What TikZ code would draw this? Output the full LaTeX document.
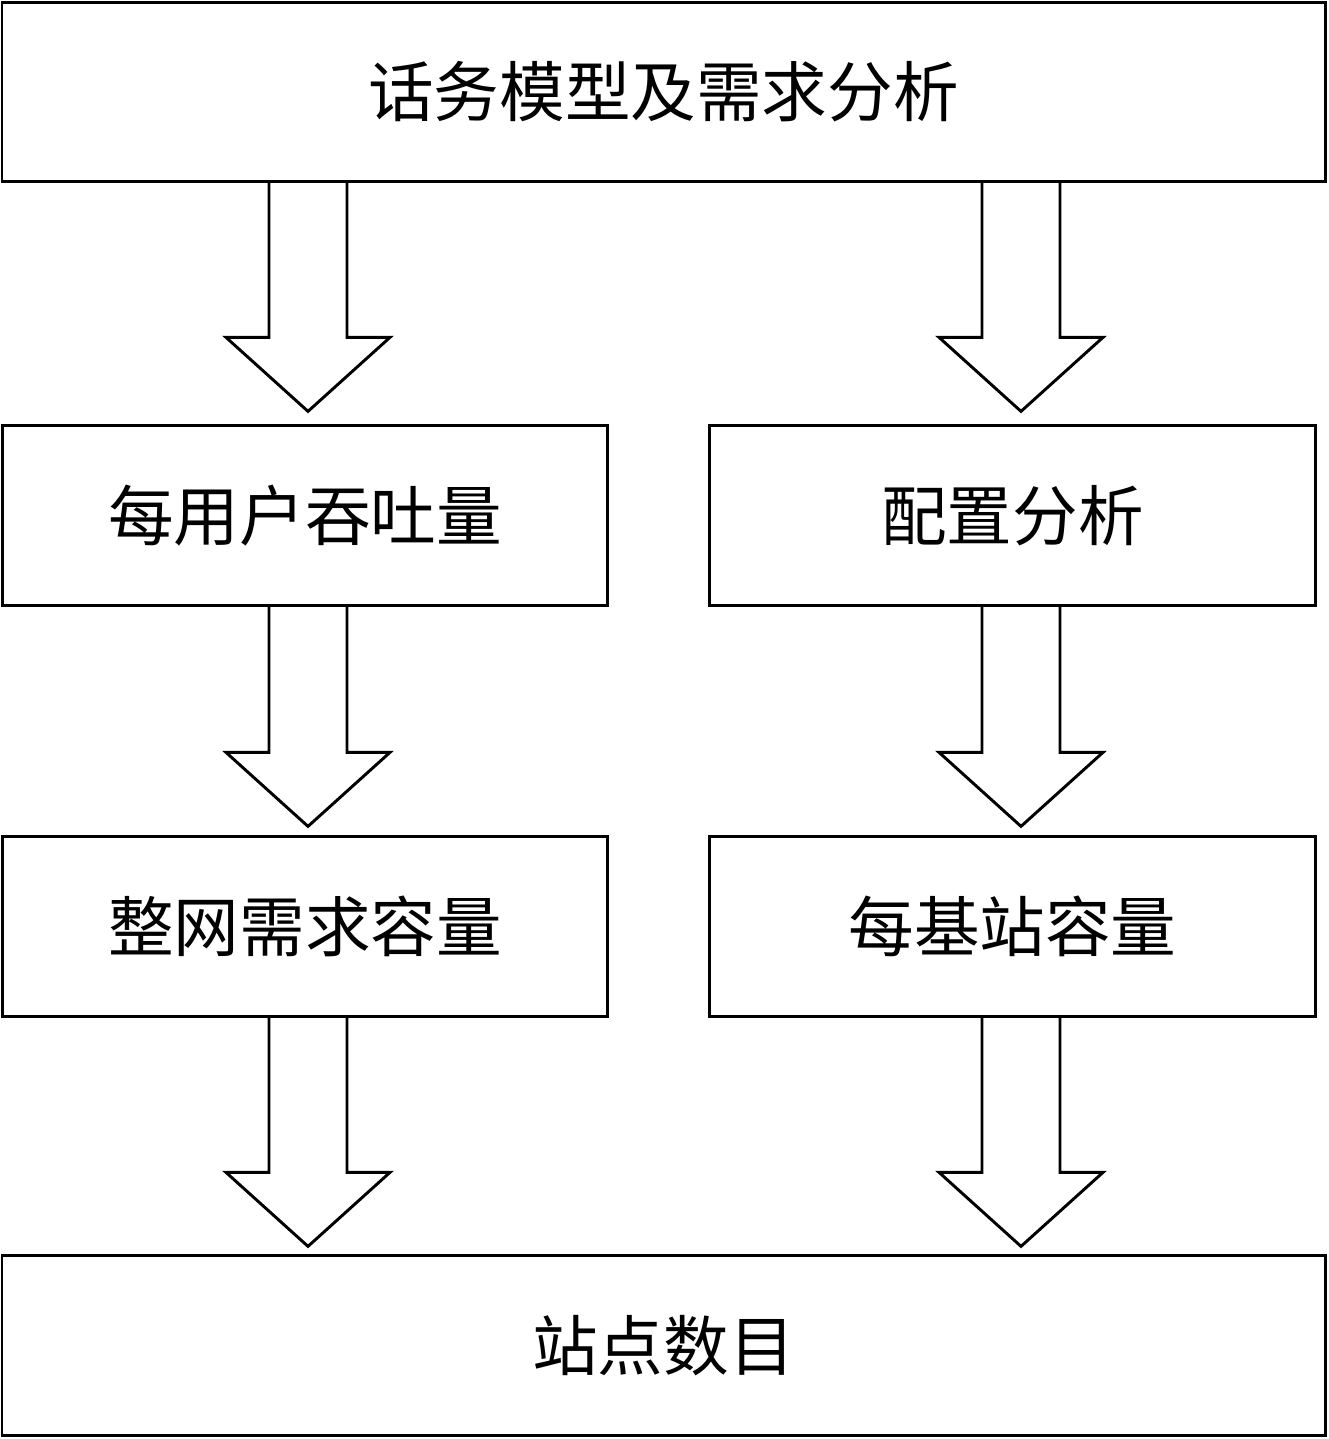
\documentclass[tikz,border=0pt]{standalone}
\usepackage{fontspec}
\setmainfont{Noto Sans CJK SC}
\usetikzlibrary{calc}
\tikzset{
  box/.style     ={draw,line width=2.5pt,minimum height=5.38cm,inner sep=0pt,align=center,
                   font=\fontsize{56}{60}\selectfont},
  widebox/.style ={box,minimum width=39.69cm},
  halfbox/.style ={box,minimum width=18.17cm},
  flow/.style    ={draw,line width=2.5pt,line join=miter}
}
\newcommand{\flowarrow}[2]{%
  \draw[flow] ($(#1)+(-39,0)$) -- ($(#2)+(-39,-74)$) -- ($(#2)+(-82,-74)$) -- (#2)
    -- ($(#2)+(82,-74)$) -- ($(#2)+(39,-74)$) -- ($(#1)+(39,0)$);}

\begin{document}
\begin{tikzpicture}[x=0.03cm,y=-0.03cm]
    \useasboundingbox (0,0) rectangle (1329,1439);
    \node[widebox] (demand) at (663.5,92)    {话务模型及需求分析};
    \node[halfbox] (thr)    at (305,515.5)   {每用户吞吐量};
    \node[halfbox] (cfg)    at (1012.5,515.5){配置分析};
    \node[halfbox] (net)    at (305,926.5)   {整网需求容量};
    \node[halfbox] (bs)     at (1012.5,926.5){每基站容量};
    \node[widebox] (sites)  at (663.5,1345.5){站点数目};
    \coordinate (lc) at (308,0);
    \coordinate (rc) at (1021,0);
    \coordinate (a1) at (demand.south -| lc);
    \coordinate (b1) at ($(thr.north -| lc)+(0,-13)$);
    \coordinate (a2) at (demand.south -| rc);
    \coordinate (b2) at ($(cfg.north -| rc)+(0,-13)$);
    \coordinate (a3) at (thr.south -| lc);
    \coordinate (b3) at ($(net.north -| lc)+(0,-9)$);
    \coordinate (a4) at (cfg.south -| rc);
    \coordinate (b4) at ($(bs.north -| rc)+(0,-9)$);
    \coordinate (a5) at (net.south -| lc);
    \coordinate (b5) at ($(sites.north -| lc)+(0,-8)$);
    \coordinate (a6) at (bs.south -| rc);
    \coordinate (b6) at ($(sites.north -| rc)+(0,-8)$);
    \flowarrow{a1}{b1}
    \flowarrow{a2}{b2}
    \flowarrow{a3}{b3}
    \flowarrow{a4}{b4}
    \flowarrow{a5}{b5}
    \flowarrow{a6}{b6}
  \end{tikzpicture}
\end{document}
